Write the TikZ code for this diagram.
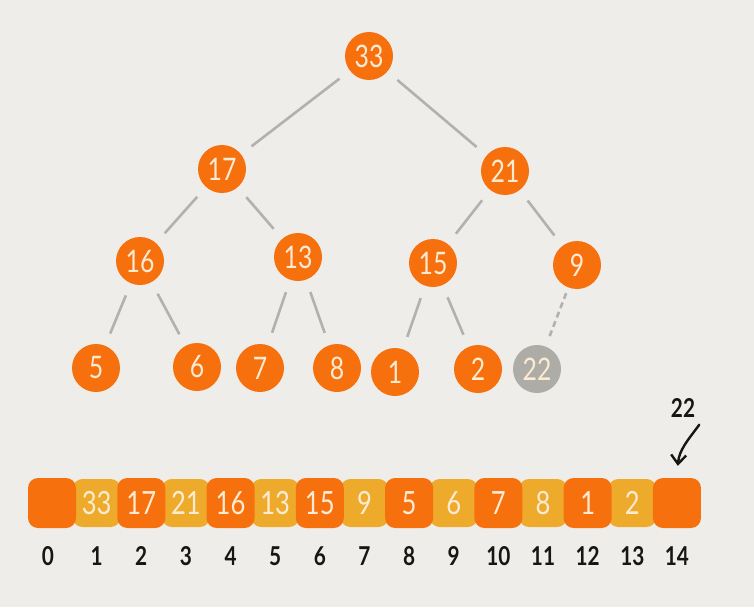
\documentclass[tikz,border=0pt]{standalone}
\usepackage{fontspec}
\setmainfont{Lato}
\newfontfamily\hand[FakeStretch=0.8]{Lato}
\usetikzlibrary{arrows.meta}
\definecolor{bg}{HTML}{EEEDE9}
\definecolor{heaporange}{HTML}{F7700E}
\definecolor{heapyellow}{HTML}{EEAA2A}
\definecolor{edgegray}{HTML}{B2B1AE}
\definecolor{newgray}{HTML}{AEACA7}
\definecolor{cream}{HTML}{FCEBD3}
\definecolor{ink}{HTML}{161616}
\begin{document}
\begin{tikzpicture}[x=1pt,y=-1pt,
  treenode/.style={circle, fill=heaporange, minimum size=48pt, inner sep=0pt,
    text=cream, font=\hand\fontsize{31}{31}\selectfont},
  newnode/.style={treenode, fill=newgray},
  link/.style={draw=edgegray, line width=2.6pt, shorten <=13pt, shorten >=13pt},
  pending/.style={link, dash pattern=on 6pt off 4pt, shorten <=6pt, shorten >=8pt},
  cellbase/.style={rounded corners=10pt, minimum width=48pt, minimum height=50pt,
    inner sep=0pt, text=cream, font=\hand\fontsize{32}{32}\selectfont},
  evencell/.style={cellbase, fill=heaporange},
  oddcell/.style={cellbase, fill=heapyellow, minimum height=48pt},
  idx/.style={text=ink, inner sep=0pt, font=\hand\bfseries\fontsize{26}{26}\selectfont},
  pointer/.style={draw=ink, line width=2.4pt, line cap=round,
    -{Straight Barb[length=9pt,width=15pt,line width=2.4pt]}, shorten >=12pt},
]
% canvas
\fill[bg] (0,0) rectangle (754,607);

% heap tree
\node[treenode] (t33) at (369,56) {33};
\node[treenode] (t17) at (222,169) {17};
\node[treenode] (t21) at (505,171) {21};
\node[treenode] (t16) at (140,261) {16};
\node[treenode] (t13) at (298,257) {13};
\node[treenode] (t15) at (433,263) {15};
\node[treenode] (t9)  at (577,265) {9};
\node[treenode] (t5)  at (96,368)  {5};
\node[treenode] (t6)  at (197,367) {6};
\node[treenode] (t7)  at (260,368) {7};
\node[treenode] (t8)  at (337,368) {8};
\node[treenode] (t1)  at (395,372) {1};
\node[treenode] (t2)  at (478,369) {2};
\node[newnode]  (t22) at (537,369) {22};

\draw[link] (t33) -- (t17);
\draw[link] (t33) -- (t21);
\draw[link] (t17) -- (t16);
\draw[link] (t17) -- (t13);
\draw[link] (t21) -- (t15);
\draw[link] (t21) -- (t9);
\draw[link] (t16) -- (t5);
\draw[link] (t16) -- (t6);
\draw[link] (t13) -- (t7);
\draw[link] (t13) -- (t8);
\draw[link] (t15) -- (t1);
\draw[link] (t15) -- (t2);
\draw[pending] (t9) -- (t22);

% array storage: odd slots behind, even slots in front
\foreach \i/\v in {1/33,3/21,5/13,7/9,9/6,11/8,13/2}
  \node[oddcell] (c\i) at ({52+44.64*\i},503) {\v};
\foreach \i/\v in {0/{},2/17,4/16,6/15,8/5,10/7,12/1,14/{}}
  \node[evencell] (c\i) at ({52+44.64*\i},503) {\v};

% indices
\node[idx] (i0) at (48,556) {0};
\foreach \i in {1,...,14}
  \node[idx] (i\i) at ({52+44.64*\i},556) {\i};

% inserted value
\node[idx] (lbl) at (683,408) {22};
\draw[pointer] ([shift={(4pt,-7pt)}]lbl.south east)
  .. controls (688,440) and (679,450) .. (c14.north);
\end{tikzpicture}
\end{document}
